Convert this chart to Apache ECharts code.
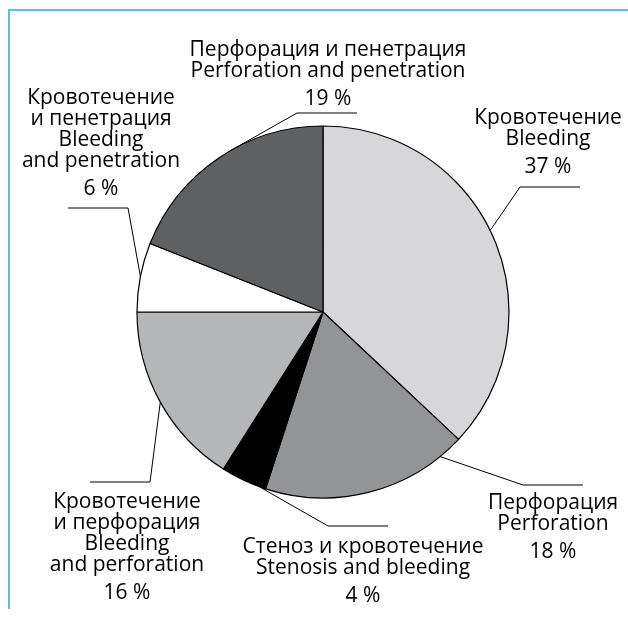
<!DOCTYPE html>
<html>
<head>
<meta charset="utf-8">
<script src="https://cdn.jsdelivr.net/npm/echarts@6/dist/echarts.min.js"></script>
<style>
  html, body { margin: 0; padding: 0; background: #fff; }
  #chart { width: 628px; height: 619px; }
</style>
</head>
<body>
<div id="chart"></div>
<script>
// данные
const namesRu = ["Кровотечение", "Перфорация", "Стеноз и кровотечение", "Кровотечение\nи перфорация", "Кровотечение\nи пенетрация", "Перфорация и пенетрация"];
const namesEn = ["Bleeding", "Perforation", "Stenosis and bleeding", "Bleeding\nand perforation", "Bleeding\nand penetration", "Perforation and penetration"];
const values = [37, 18, 4, 16, 6, 19];
const colors = ["#d7d7d9", "#939496", "#000000", "#b5b6b8", "#ffffff", "#5f6062"];

// геометрия круга и подписей
const CX = 323, CY = 312, R = 186;
const labelPos = [
    { x: 548, y: 118, anchor: 64, lineY: 187, bend: 520, end: 580 },
    { x: 553, y: 503, anchor: 141, lineY: 485, bend: 523, end: 583 },
    { x: 363, y: 547, anchor: 200, lineY: 526, bend: 328, end: 388 },
    { x: 127, y: 502, anchor: 241, lineY: 482, bend: 150, end: 90 },
    { x: 101, y: 98, anchor: 281, lineY: 208, bend: 128, end: 68 },
    { x: 328, y: 50, anchor: 330, lineY: 113, bend: 297, end: 357 }
];

const labelText = (i) => {
    const lines = (namesRu[i] + "\n" + namesEn[i]).split("\n");
    return lines.map(l => "{t|" + l + "}").join("\n") + "\n{p|" + values[i] + " %}";
};

const initChart = () => {
    const myChart = echarts.init(document.getElementById("chart"));
    const option = {
        animation: false,
        graphic: [{
            type: "polyline",
            shape: { points: [[9, 609], [9, 10], [628, 10]] },
            style: { stroke: "#5dbde9", lineWidth: 2, fill: null }
        }],
        series: [{
            type: "pie",
            center: [CX, CY],
            radius: R,
            startAngle: 90,
            clockwise: true,
            avoidLabelOverlap: false,
            silent: true,
            emphasis: { disabled: true },
            itemStyle: { borderColor: "#000", borderWidth: 1.2 },
            label: {
                show: true,
                position: "outside",
                formatter: (p) => labelText(p.dataIndex),
                align: "center",
                color: "#000",
                rich: {
                    t: { fontFamily: "Open Sans", fontSize: 21, lineHeight: 21, color: "#000", align: "center" },
                    p: { fontFamily: "Open Sans", fontSize: 21, lineHeight: 35, color: "#000", align: "center" }
                }
            },
            labelLine: { show: true, lineStyle: { color: "#000", width: 1 } },
            labelLayout: (params) => {
                const L = labelPos[params.dataIndex];
                const a = L.anchor * Math.PI / 180;
                const start = [CX + R * Math.sin(a), CY - R * Math.cos(a)];
                return {
                    x: L.x,
                    y: L.y - 10.5,
                    align: "center",
                    verticalAlign: "top",
                    labelLinePoints: [start, [L.bend, L.lineY], [L.end, L.lineY]]
                };
            },
            data: values.map((v, i) => ({ value: v, name: namesEn[i], itemStyle: { color: colors[i] } }))
        }]
    };
    myChart.setOption(option);
};

window.addEventListener("load", () => {
    initChart();
});
</script>
</body>
</html>
